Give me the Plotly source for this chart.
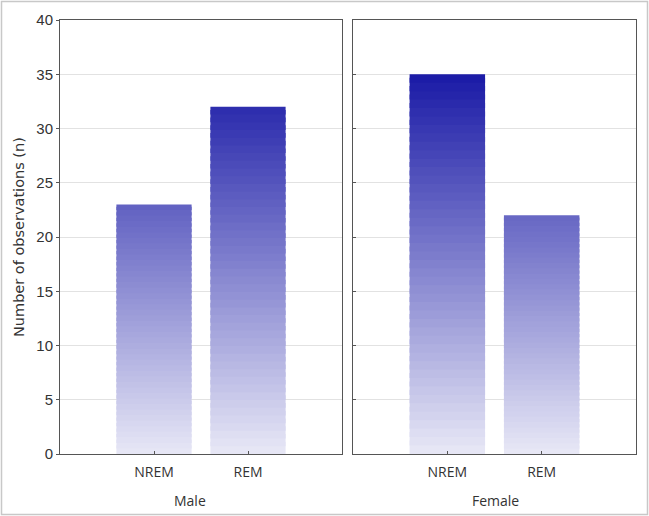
import plotly.graph_objects as go
from plotly.subplots import make_subplots

categories = ["NREM", "REM"]
groups = ["Male", "Female"]
male_values = [23, 32]
female_values = [35, 22]
y_ticks = [0, 5, 10, 15, 20, 25, 30, 35, 40]

W, H = 649, 516
ML, MR, MT, MB = 60, 13, 20, 62
PW, PH = W - ML - MR, H - MT - MB

low = (232, 232, 246)
high = (26, 26, 166)
YMAX_COLOR = 35.0
N = 45


def col(v):
    t = max(0.0, min(1.0, v / YMAX_COLOR))
    r, g, b = (round(low[i] + (high[i] - low[i]) * t) for i in range(3))
    return f"rgb({r},{g},{b})"


fig = make_subplots(rows=1, cols=2, shared_yaxes=False, horizontal_spacing=0.02)

# Gradient: stacked slices of each bar, each slightly overlapping the next
# one above (drawn bottom-up), so no seams appear.
for ci, vals in enumerate([male_values, female_values], start=1):
    for k in range(N):
        bases = [v * k / N for v in vals]
        heights = [min(v * (k + 1.6) / N, v) - v * k / N for v in vals]
        colors = [col(v * (k + 0.5) / N) for v in vals]
        fig.add_trace(
            go.Bar(
                x=categories,
                y=heights,
                base=bases,
                width=0.8,
                marker=dict(color=colors, line=dict(width=0)),
                showlegend=False,
                hoverinfo="skip",
            ),
            row=1,
            col=ci,
        )

fig.update_layout(barmode="overlay")

d1 = (0, 282 / PW)
d2 = (293 / PW, 1.0)
fig.update_layout(
    xaxis=dict(domain=d1),
    xaxis2=dict(domain=d2),
)

axis_common = dict(
    showline=True,
    linecolor="#555555",
    linewidth=1,
    mirror=True,
)
for xa in ["xaxis", "xaxis2"]:
    fig.layout[xa].update(
        range=[-1, 2],
        ticks="inside",
        ticklen=3,
        tickcolor="#555555",
        tickfont=dict(family="Open Sans, Liberation Sans", size=14, color="#333333"),
        ticklabelstandoff=5,
        showgrid=False,
        **axis_common,
    )
for ya, showlab in [("yaxis", True), ("yaxis2", False)]:
    fig.layout[ya].update(
        range=[0, 40],
        tickvals=y_ticks,
        ticks="outside" if showlab else "inside",
        ticklen=3,
        tickcolor="#555555",
        showticklabels=showlab,
        tickfont=dict(family="Liberation Sans, Arial", size=15, color="#333333"),
        showgrid=True,
        gridcolor="#e2e2e2",
        gridwidth=1,
        zeroline=False,
        **axis_common,
    )

annotations = []
for gname, cx in zip(groups, [190, 495]):
    annotations.append(
        dict(
            text=gname,
            xref="paper",
            yref="paper",
            x=(cx - ML) / PW,
            y=(H - MB - 500) / PH,
            xanchor="center",
            yanchor="middle",
            showarrow=False,
            font=dict(family="Open Sans, Liberation Sans", size=14, color="#333333"),
        )
    )
annotations.append(
    dict(
        text="Number of observations (n)",
        xref="paper",
        yref="paper",
        x=(19 - ML) / PW,
        y=(H - MB - 237) / PH,
        textangle=-90,
        xanchor="center",
        yanchor="middle",
        showarrow=False,
        font=dict(family="DejaVu Sans", size=14.5, color="#333333"),
    )
)

fig.update_layout(
    width=W,
    height=H,
    margin=dict(l=ML, r=MR, t=MT, b=MB),
    paper_bgcolor="white",
    plot_bgcolor="white",
    annotations=annotations,
    shapes=[
        dict(
            type="rect",
            xref="paper",
            yref="paper",
            x0=(1.5 - ML) / PW,
            x1=(W - 1.5 - ML) / PW,
            y0=(H - MB - (H - 1.5)) / PH,
            y1=(H - MB - 1.5) / PH,
            line=dict(color="#c8c8c8", width=1.5),
            layer="below",
        )
    ],
)

fig.write_html("out.html")
